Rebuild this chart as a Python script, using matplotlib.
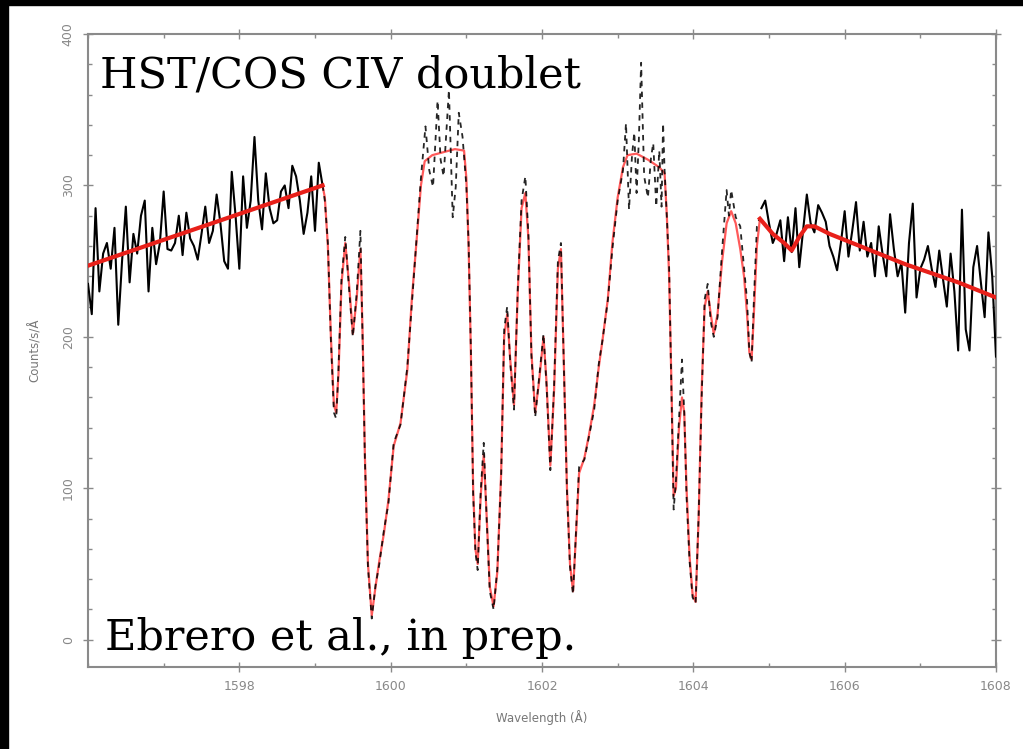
import numpy as np
import matplotlib.pyplot as plt
from matplotlib.patches import Rectangle
from matplotlib.ticker import MultipleLocator

# continuum data (0.05 A grid) left and right of the absorption
left_wave = np.round(np.arange(1596.00, 1599.101, 0.05), 2)
left_flux = [235, 215, 285, 230, 255, 262, 245, 272, 208, 250,
             286, 236, 268, 255, 280, 290, 230, 272, 248, 262,
             296, 258, 257, 262, 280, 254, 282, 265, 260, 251,
             268, 286, 262, 270, 294, 275, 250, 245, 309, 280,
             245, 306, 272, 290, 332, 290, 271, 308, 285, 275,
             277, 296, 300, 285, 313, 306, 290, 268, 282, 306,
             270, 315, 300]
right_wave = np.round(np.arange(1604.90, 1608.001, 0.05), 2)
right_flux = [285, 290, 275, 262, 268, 277, 250, 279, 256, 285,
              246, 270, 294, 275, 269, 287, 282, 276, 260, 253,
              244, 262, 283, 253, 270, 289, 257, 276, 253, 262,
              240, 273, 255, 240, 281, 258, 240, 249, 216, 262,
              288, 226, 245, 251, 260, 245, 233, 257, 238, 220,
              255, 230, 191, 284, 205, 191, 246, 260, 236, 213,
              269, 240, 187]

# data across the CIV absorption troughs
abs_wave = [1599.10, 1599.13, 1599.17, 1599.21, 1599.25, 1599.28, 1599.31, 1599.35,
            1599.40, 1599.45, 1599.50, 1599.55, 1599.60, 1599.63, 1599.66, 1599.70,
            1599.75, 1599.80, 1599.85, 1599.91, 1599.97, 1600.04, 1600.13, 1600.22,
            1600.28, 1600.34, 1600.40, 1600.46, 1600.51, 1600.56, 1600.62, 1600.66,
            1600.70, 1600.77, 1600.82, 1600.86, 1600.90, 1600.95, 1601.00, 1601.03,
            1601.06, 1601.09, 1601.12, 1601.15, 1601.19, 1601.23, 1601.27, 1601.31,
            1601.36, 1601.41, 1601.46, 1601.50, 1601.54, 1601.58, 1601.63, 1601.68,
            1601.73, 1601.78, 1601.82, 1601.86, 1601.91, 1601.96, 1602.02, 1602.06,
            1602.11, 1602.16, 1602.21, 1602.25, 1602.29, 1602.33, 1602.37, 1602.41,
            1602.45, 1602.49, 1602.56, 1602.62, 1602.69, 1602.75, 1602.80, 1602.87,
            1602.93, 1603.00, 1603.07, 1603.11, 1603.15, 1603.19, 1603.22, 1603.25,
            1603.28, 1603.31, 1603.35, 1603.40, 1603.44, 1603.47, 1603.51, 1603.55,
            1603.58, 1603.60, 1603.62, 1603.65, 1603.68, 1603.71, 1603.74, 1603.77,
            1603.81, 1603.85, 1603.88, 1603.91, 1603.95, 1603.99, 1604.03, 1604.07,
            1604.11, 1604.15, 1604.19, 1604.23, 1604.27, 1604.32, 1604.38, 1604.44,
            1604.47, 1604.50, 1604.56, 1604.62, 1604.67, 1604.71, 1604.74, 1604.77,
            1604.80, 1604.84, 1604.88]
abs_flux = [300, 290, 262, 198, 150, 146, 178, 238,
            266, 232, 200, 228, 270, 196, 118, 48,
            14, 36, 50, 72, 90, 130, 142, 180,
            222, 265, 305, 339, 310, 299, 356, 317,
            306, 363, 279, 299, 348, 332, 300, 262,
            192, 96, 58, 46, 98, 130, 78, 32,
            20, 47, 108, 205, 220, 183, 152, 232,
            290, 306, 268, 188, 147, 172, 202, 168,
            112, 168, 250, 262, 178, 98, 48, 30,
            72, 114, 119, 134, 152, 182, 198, 224,
            258, 290, 310, 341, 284, 320, 335, 295,
            330, 381, 306, 292, 318, 328, 286, 323,
            286, 341, 310, 279, 246, 165, 86, 105,
            145, 185, 150, 95, 52, 28, 24, 82,
            160, 225, 235, 210, 200, 213, 257, 297,
            280, 297, 279, 273, 246, 224, 190, 183,
            224, 273, 279]

# model fit
model_wave = [1596.00, 1599.10, 1599.13, 1599.17, 1599.21, 1599.25, 1599.28, 1599.31,
              1599.35, 1599.40, 1599.45, 1599.50, 1599.55, 1599.60, 1599.63, 1599.66,
              1599.70, 1599.75, 1599.80, 1599.85, 1599.91, 1599.97, 1600.04, 1600.13,
              1600.22, 1600.28, 1600.34, 1600.40, 1600.45, 1600.55, 1600.70, 1600.85,
              1600.97, 1601.00, 1601.03, 1601.06, 1601.09, 1601.12, 1601.15, 1601.19,
              1601.23, 1601.27, 1601.31, 1601.36, 1601.41, 1601.46, 1601.50, 1601.54,
              1601.58, 1601.63, 1601.68, 1601.73, 1601.78, 1601.82, 1601.86, 1601.91,
              1601.96, 1602.02, 1602.06, 1602.11, 1602.16, 1602.21, 1602.25, 1602.29,
              1602.33, 1602.37, 1602.41, 1602.45, 1602.49, 1602.56, 1602.62, 1602.69,
              1602.75, 1602.80, 1602.87, 1602.93, 1603.00, 1603.07, 1603.13, 1603.25,
              1603.40, 1603.55, 1603.62, 1603.65, 1603.68, 1603.71, 1603.74, 1603.77,
              1603.81, 1603.85, 1603.88, 1603.91, 1603.95, 1603.99, 1604.03, 1604.07,
              1604.11, 1604.15, 1604.19, 1604.23, 1604.27, 1604.32, 1604.38, 1604.44,
              1604.50, 1604.56, 1604.62, 1604.67, 1604.71, 1604.74, 1604.77, 1604.80,
              1604.84, 1604.88, 1605.05, 1605.20, 1605.30, 1605.40, 1605.50, 1605.60,
              1605.80, 1606.10, 1606.80, 1607.50, 1608.00]
model_flux = [247, 300, 292, 260, 200, 155, 150, 175,
              235, 262, 235, 202, 225, 258, 200, 120,
              50, 16, 35, 52, 70, 92, 128, 143,
              178, 225, 262, 300, 316, 320, 322, 324,
              323, 305, 260, 190, 100, 60, 50, 95,
              122, 80, 35, 22, 45, 110, 200, 215,
              185, 155, 230, 285, 295, 265, 190, 150,
              170, 200, 170, 115, 165, 245, 258, 180,
              100, 50, 32, 70, 110, 120, 135, 155,
              180, 198, 225, 262, 292, 312, 320, 321,
              317, 312, 308, 280, 240, 170, 95, 100,
              140, 160, 150, 100, 55, 30, 25, 80,
              165, 220, 230, 215, 202, 215, 250, 275,
              283, 275, 258, 240, 215, 190, 185, 215,
              260, 278, 268, 262, 257, 266, 273, 273,
              268, 262, 248, 236, 226]

fig = plt.figure(figsize=(10.23, 7.49), dpi=100)
fig.patch.set_facecolor('white')
fig.patches.append(Rectangle((0, 0), 8 / 1023, 1, transform=fig.transFigure, color='black', zorder=-1))
fig.patches.append(Rectangle((0, 1 - 5 / 749), 1, 5 / 749, transform=fig.transFigure, color='black', zorder=-1))

ax = fig.add_axes([88 / 1023, 1 - 667 / 749, 908 / 1023, 633 / 749])

mw = np.array(model_wave)
mf = np.array(model_flux)
ax.plot(mw, mf, color='#ff5a5a', lw=1.6, zorder=2)
ax.plot(abs_wave, abs_flux, color='black', lw=1.3, dashes=(3, 3), zorder=3, alpha=0.85)
ax.plot(left_wave, left_flux, color='black', lw=1.5, zorder=3)
ax.plot(right_wave, right_flux, color='black', lw=1.5, zorder=3)
ax.plot(mw[mw <= 1599.1], mf[mw <= 1599.1], color='#e8201a', lw=3, zorder=4)
ax.plot(mw[mw >= 1604.88], mf[mw >= 1604.88], color='#e8201a', lw=3, zorder=4)

ax.set_xlim(1596, 1608)
ax.set_ylim(-18, 400)
ax.set_xticks([1598, 1600, 1602, 1604, 1606, 1608])
ax.set_yticks([0, 100, 200, 300, 400])
ax.xaxis.set_minor_locator(MultipleLocator(1))
ax.yaxis.set_minor_locator(MultipleLocator(20))
for s in ax.spines.values():
    s.set_color('#8a8a8a')
    s.set_linewidth(1.5)
ax.tick_params(which='major', direction='inout', length=7, width=1, color='#8a8a8a',
               labelsize=9, labelcolor='#888888', top=True, right=True, pad=6)
ax.tick_params(which='minor', direction='in', length=3, width=1, color='#8a8a8a',
               top=True, right=True)
for lab in ax.get_yticklabels():
    lab.set_rotation(90)
    lab.set_va('center')
ax.set_xlabel('Wavelength (Å)', fontsize=8.5, color='#777777', labelpad=12)
ax.set_ylabel('Counts/s/Å', fontsize=8.5, color='#777777', labelpad=14)

ax.text(100 / 1023, 1 - 88 / 749, 'HST/COS CIV doublet', transform=fig.transFigure,
        family='DejaVu Serif', fontsize=31, color='black', zorder=6)
ax.text(105 / 1023, 1 - 650 / 749, 'Ebrero et al., in prep.', transform=fig.transFigure,
        family='DejaVu Serif', fontsize=31, color='black', zorder=6)

fig.savefig('out.png', dpi=100, facecolor=fig.get_facecolor())
